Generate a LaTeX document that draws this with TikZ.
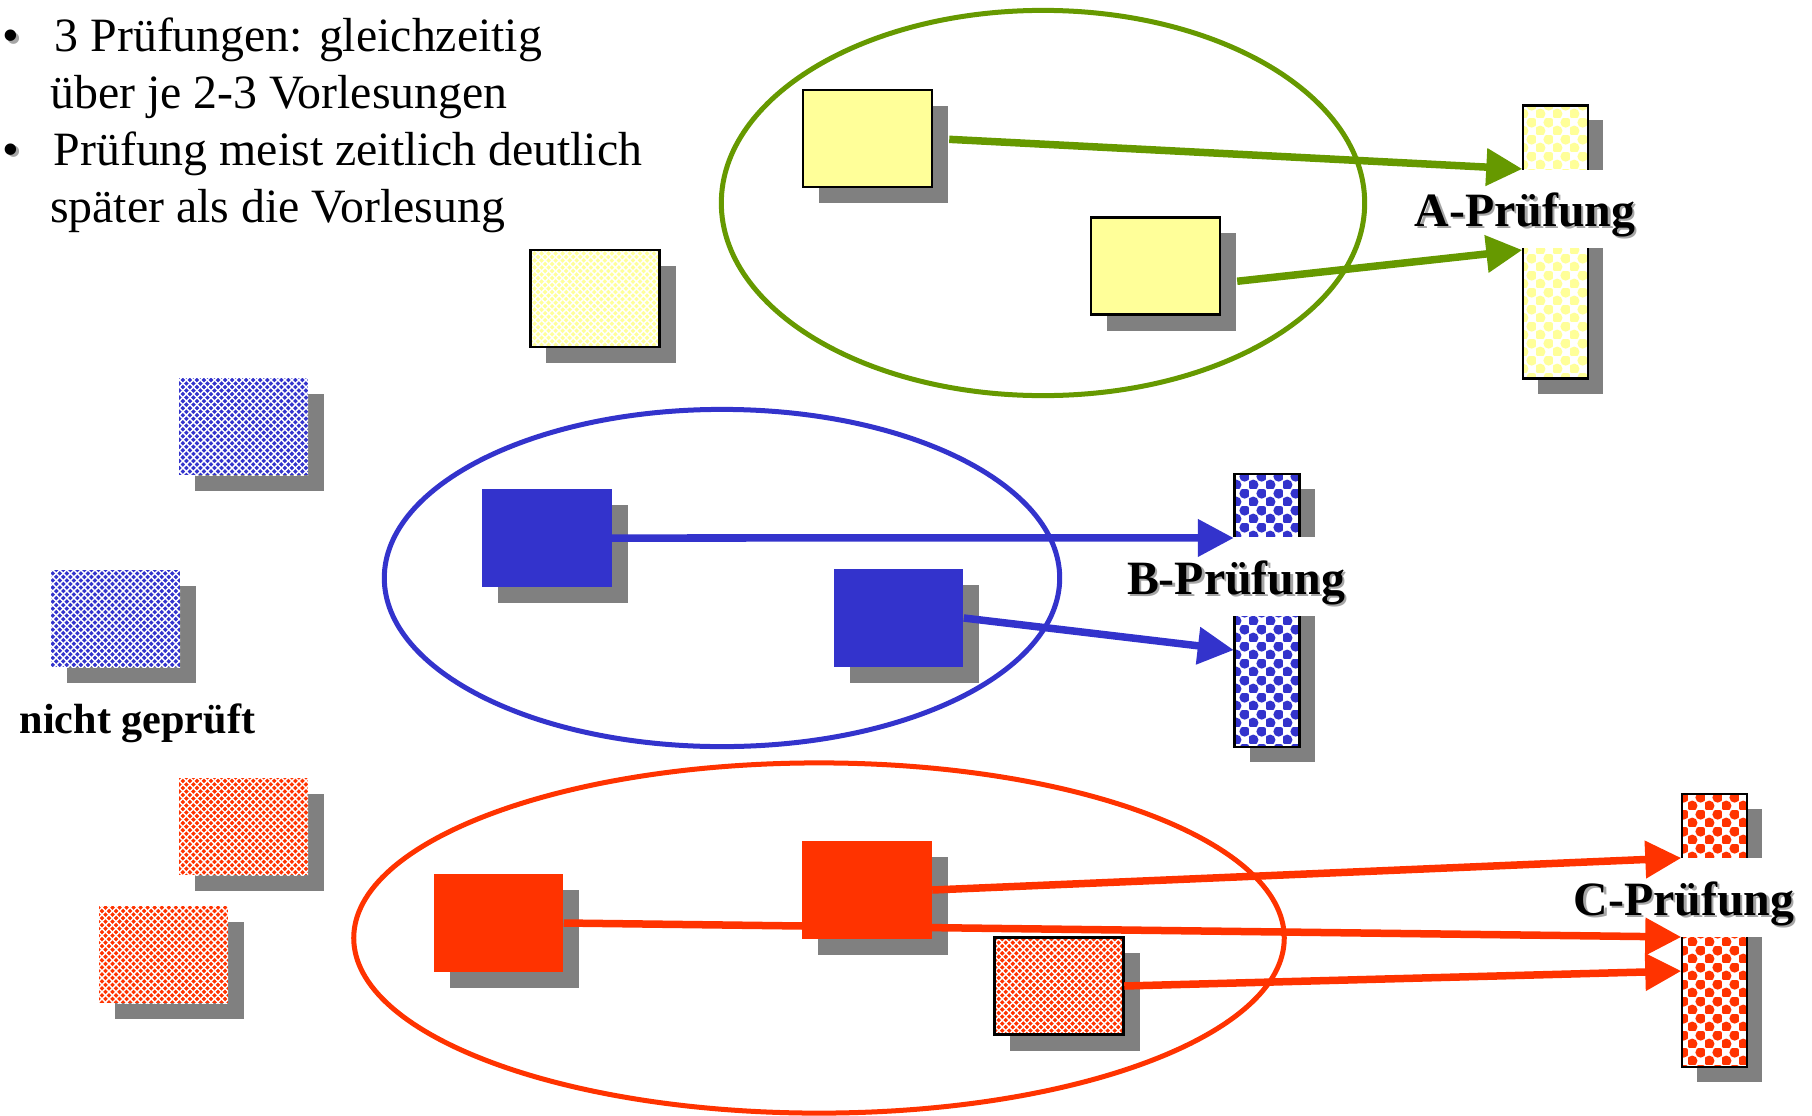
\documentclass[tikz,border=0pt]{standalone}
\usepackage{fontspec}
\setmainfont{Liberation Serif}
\usetikzlibrary{arrows.meta,shadows,patterns,shapes.geometric}

\definecolor{pgreen}{RGB}{102,153,0}
\definecolor{pblue}{RGB}{51,51,204}
\definecolor{pred}{RGB}{255,51,0}
\definecolor{pyellow}{RGB}{255,255,153}

\pgfdeclarepatternformonly{bubbles}{\pgfqpoint{0pt}{0pt}}{\pgfqpoint{4.8pt}{4.8pt}}{\pgfqpoint{4.8pt}{4.8pt}}{%
  \pgfpathcircle{\pgfqpoint{1.2pt}{1.2pt}}{1.5pt}%
  \pgfpathcircle{\pgfqpoint{3.6pt}{3.6pt}}{1.5pt}%
  \pgfusepath{fill}}
\pgfdeclarepatternformonly{lattice}{\pgfqpoint{-0.5pt}{-0.5pt}}{\pgfqpoint{2.5pt}{2.5pt}}{\pgfqpoint{2pt}{2pt}}{%
  \pgfsetlinewidth{0.4pt}%
  \pgfpathmoveto{\pgfqpoint{0pt}{0pt}}\pgfpathlineto{\pgfqpoint{2pt}{2pt}}%
  \pgfpathmoveto{\pgfqpoint{0pt}{2pt}}\pgfpathlineto{\pgfqpoint{2pt}{0pt}}%
  \pgfusepath{stroke}}

\newcommand{\shadowed}[1]{\makebox[0pt][l]{\hspace{0.7pt}\raisebox{-0.7pt}{\textcolor{black!35}{#1}}}#1}

\begin{document}
\begin{tikzpicture}[x=0.01cm,y=-0.01cm,
  box/.style={inner sep=0pt,minimum width=1.29cm,minimum height=0.97cm},
  lecture/.style={box,drop shadow={shadow xshift=0.16cm,shadow yshift=-0.16cm,fill=black!50,opacity=1}},
  plain/.style={lecture,fill=#1},
  hatched/.style={lecture,fill=#1,postaction={pattern=lattice,pattern color=white}},
  framed/.style={postaction={draw=black,line width=0.7pt}},
  exam/.style={inner sep=0pt,minimum width=0.65cm,minimum height=2.73cm,fill=white,
    postaction={pattern=bubbles,pattern color=#1},postaction={draw=black,line width=0.7pt},
    drop shadow={shadow xshift=0.15cm,shadow yshift=-0.15cm,fill=black!50,opacity=1}},
  examlabel/.style={fill=white,inner sep=0pt,minimum height=0.78cm,text height=0.55cm,text depth=0.2cm,
    font=\fontsize{13.6}{16}\selectfont\bfseries},
  cluster/.style={ellipse,draw=#1,line width=0.05cm,inner sep=0pt},
  flow/.style={draw=#1,line width=0.075cm,-{Triangle[length=0.36cm,width=0.36cm]}},
  txt/.style={anchor=base west,inner sep=0pt,font=\fontsize{13.6}{16.4}\selectfont}]
  \useasboundingbox (0,0) rectangle (1812,1115);

  % bullet text
  \node[txt] (d1) at (2,51.7)    {\shadowed{•}};
  \node[txt] (t1) at (54,51.7)   {3 Prüfungen: gleichzeitig};
  \node[txt] (t2) at (49.5,108.5) {über je 2-3 Vorlesungen};
  \node[txt] (d2) at (2,165)     {\shadowed{•}};
  \node[txt] (t3) at (53,165)    {Prüfung meist zeitlich deutlich};
  \node[txt] (t4) at (49.5,222)  {später als die Vorlesung};
  \node[txt,font=\fontsize{12}{14}\selectfont\bfseries] (ng) at (19,733) {nicht geprüft};

  % groups
  \node[cluster=pgreen,minimum width=6.43cm,minimum height=3.85cm] (ga) at (1043,203) {};
  \node[cluster=pblue,minimum width=6.75cm,minimum height=3.37cm]  (gb) at (722,578) {};
  \node[cluster=pred,minimum width=9.30cm,minimum height=3.50cm]   (gc) at (819,938) {};

  % lectures
  \node[plain=pyellow,draw=black,line width=0.7pt] (a1) at (867.5,138.5) {};
  \node[plain=pyellow,draw=black,line width=0.7pt] (a2) at (1155.5,266) {};
  \node[hatched=pyellow,framed] (a3) at (595,298.5) {};
  \node[hatched=pblue] (b3) at (243.5,426.5) {};
  \node[hatched=pblue] (b4) at (115.5,618.5) {};
  \node[plain=pblue]   (b1) at (547,538) {};
  \node[plain=pblue]   (b2) at (898.5,618) {};
  \node[hatched=pred]  (c4) at (243.5,826.5) {};
  \node[hatched=pred]  (c5) at (163.5,954.5) {};
  \node[plain=pred]    (c1) at (498.5,923) {};
  \node[plain=pred]    (c2) at (867,890) {};
  \node[hatched=pred,framed] (c3) at (1059,986) {};

  % exams
  \node[exam=pyellow] (ea) at (1555.5,242) {};
  \node[exam=pblue]   (eb) at (1267,610.5) {};
  \node[exam=pred]    (ec) at (1714.5,930.5) {};
  \node[examlabel] (la) at (1525,209)   {\shadowed{A-Prüfung}};
  \node[examlabel] (lb) at (1236,576.5) {\shadowed{B-Prüfung}};
  \node[examlabel] (lc) at (1684,897.5) {\shadowed{C-Prüfung}};

  \draw[flow=pgreen,shorten <=0.16cm] (a1.east) -- ([yshift=0.73cm]ea.west);
  \draw[flow=pgreen,shorten <=0.16cm] ([yshift=-0.17cm]a2.east) -- ([yshift=-0.08cm]ea.west);
  \draw[flow=pblue] (b1.east) -- ([yshift=0.725cm]eb.west);
  \draw[flow=pblue] (b2.east) -- ([yshift=-0.395cm]eb.west);
  \draw[flow=pred] (c2.east) -- ([yshift=0.725cm]ec.west);
  \draw[flow=pred] (c1.east) -- ([yshift=-0.065cm]ec.west);
  \draw[flow=pred] (c3.east) -- ([yshift=-0.405cm]ec.west);
  % c1 -> C runs behind c2
  \node[box,fill=pred] (c2top) at (c2) {};
\end{tikzpicture}
\end{document}
